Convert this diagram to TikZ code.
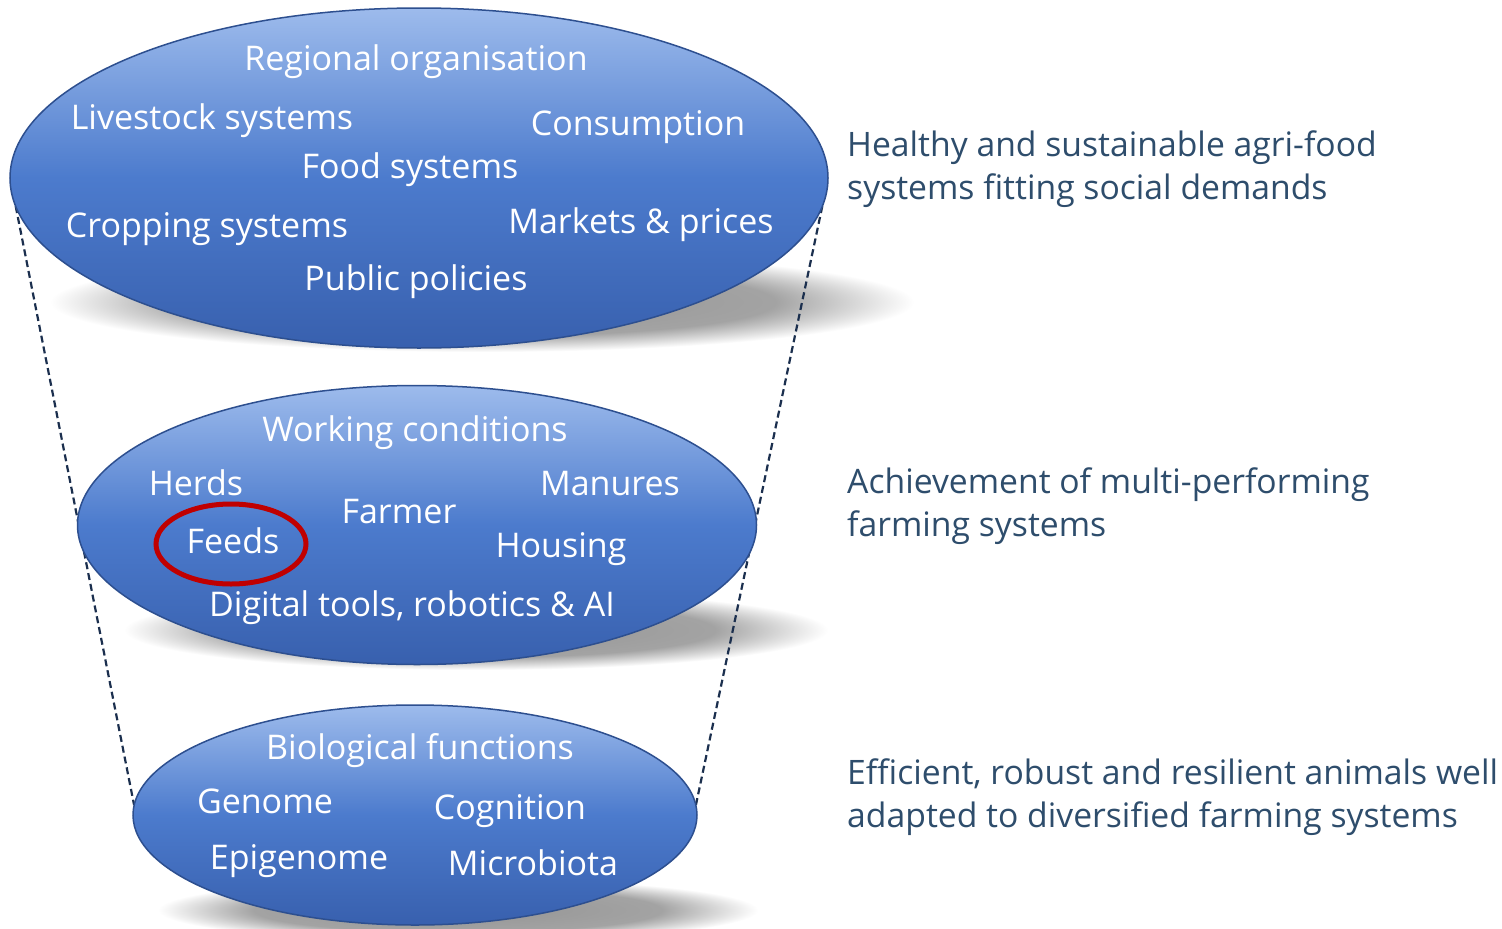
\documentclass[tikz,border=0pt]{standalone}
\usepackage{fontspec}
\setmainfont{Open Sans}
\usetikzlibrary{shapes.geometric}
\definecolor{ellTop}{HTML}{9DBBEC}
\definecolor{ellMid}{HTML}{4C7BCD}
\definecolor{ellBot}{HTML}{3860AE}
\definecolor{ellEdge}{HTML}{2D4F8F}
\definecolor{sideText}{HTML}{2E4D6C}
\definecolor{dashCol}{HTML}{1B2F4E}
\definecolor{feedRed}{HTML}{C00000}
\pgfdeclareradialshading{softshadow}{\pgfpoint{0bp}{0bp}}{color(0bp)=(black!42); color(17bp)=(black!36); color(25bp)=(white); color(50bp)=(white)}
\pgfdeclarelayer{paper}
\pgfdeclarelayer{bg}
\pgfsetlayers{paper,bg,main}
\begin{document}
\begin{tikzpicture}[x=1pt,y=-1pt,
  layer/.style={ellipse, draw=ellEdge, line width=1.5pt, top color=ellTop, bottom color=ellBot, middle color=ellMid, inner sep=0pt, outer sep=0pt},
  lbl/.style={text=white, font=\fontsize{34}{40}\selectfont, inner sep=0pt, anchor=base},
  side/.style={text=sideText, font=\fontsize{33.7}{43}\selectfont, align=left, anchor=west, inner sep=0pt},
  softshade/.style={shading=softshadow},
  conn/.style={dashCol, line width=2.2pt, dash pattern=on 7pt off 4pt},
  ring/.style={ellipse, draw=feedRed, line width=5pt, inner sep=0pt}]
\begin{pgfonlayer}{paper}
\fill[white] (0,0) rectangle (1502,929);
\end{pgfonlayer}
\useasboundingbox (0,0) rectangle (1502,929);

% layers
\node[layer, minimum width=818pt, minimum height=340pt] (e1) at (419,178) {};
\node[layer, minimum width=679pt, minimum height=279pt] (e2) at (417,525) {};
\node[layer, minimum width=564pt, minimum height=220pt] (e3) at (415,815) {};

\begin{pgfonlayer}{bg}
  \shade[softshade] (482,302) ellipse [x radius=432, y radius=50];
  \shade[softshade] (476,630) ellipse [x radius=352, y radius=40];
  \shade[softshade] (458,910) ellipse [x radius=300, y radius=32];
  \draw[conn] (e1.184) -- (e3.178);
  \draw[conn] (e1.356) -- (e3.2);
\end{pgfonlayer}

% top layer labels
\node[lbl] (t1) at (416,70) {Regional organisation};
\node[lbl] (t2) at (212,129) {Livestock systems};
\node[lbl] (t3) at (638,135) {Consumption};
\node[lbl] (t4) at (410,178) {Food systems};
\node[lbl] (t5) at (207,237) {Cropping systems};
\node[lbl] (t6) at (641,233) {Markets \& prices};
\node[lbl] (t7) at (416,290) {Public policies};

% middle layer labels
\node[lbl] (m1) at (415,441) {Working conditions};
\node[lbl] (m2) at (196,495) {Herds};
\node[lbl] (m3) at (610,495) {Manures};
\node[lbl] (m4) at (399,523) {Farmer};
\node[lbl] (m5) at (233,553) {Feeds};
\node[lbl] (m6) at (561,557) {Housing};
\node[lbl] (m7) at (412,616) {Digital tools, robotics \& AI};
\node[ring, minimum width=150pt, minimum height=80pt] (r1) at (231,544) {};

% bottom layer labels
\node[lbl] (b1) at (420,759) {Biological functions};
\node[lbl] (b2) at (265,813) {Genome};
\node[lbl] (b3) at (510,819) {Cognition};
\node[lbl] (b4) at (299,869) {Epigenome};
\node[lbl] (b5) at (533,875) {Microbiota};

% side texts
\node[side] (s1) at (847,169) {Healthy and sustainable agri-food\\systems fitting social demands};
\node[side] (s2) at (847,506) {Achievement of multi-performing\\farming systems};
\node[side] (s3) at (847,797) {Efficient, robust and resilient animals well\\adapted to diversified farming systems};
\end{tikzpicture}
\end{document}
